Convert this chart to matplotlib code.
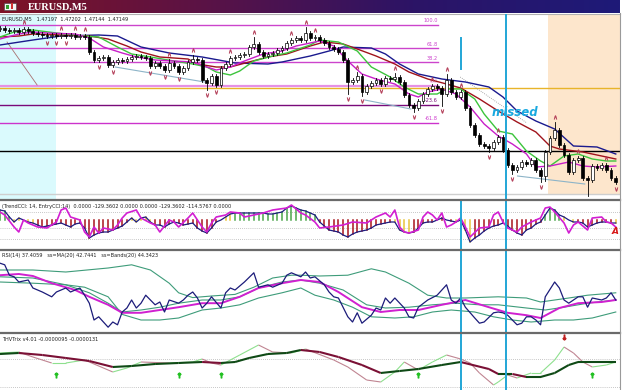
import numpy as np
import matplotlib.pyplot as plt
from matplotlib.collections import LineCollection
from matplotlib.colors import LinearSegmentedColormap
from matplotlib.lines import Line2D
from matplotlib.patches import Rectangle

# ---------------- main window: EURUSD M5, prices in pips above 1.4700
close = [88.5, 87.5, 87, 87.5, 86.5, 88, 87, 86, 85.5, 85,
         84.5, 85, 84.5, 85, 84.5, 85, 84, 84.5, 84, 76.5,
         72.5, 73.5, 74, 70, 71.5, 72.5, 72, 73, 74, 74.5,
         74, 73.5, 69.5, 71, 69.5, 67.5, 71, 69.5, 66.5, 68.5,
         71.5, 73, 72.5, 62.5, 61, 64.5, 60, 68.5, 70.5, 73.5,
         74, 75, 75.5, 79, 80.5, 76.5, 74.5, 75.5, 76, 77.5,
         78.5, 81, 82.5, 83.5, 82.5, 86, 83.5, 84, 82.5, 81,
         79, 78, 76.5, 72.5, 61.5, 62.5, 64.5, 56.5, 59.5, 61,
         62.5, 60.5, 63.5, 63, 64, 61.5, 55, 50, 48.5, 52,
         55.5, 58, 59.5, 58.5, 55.5, 62.5, 56.5, 54, 56.5, 48.5,
         40, 35, 30.5, 29.5, 28.5, 31.5, 34, 27.5, 20, 17.5,
         19, 21.5, 20.5, 22.5, 17.5, 14.5, 26.5, 33.5, 37.5, 30,
         25, 16.5, 22.5, 23.5, 13.5, 12.5, 19.5, 18.5, 20, 17.5,
         13.5, 11.5]
first_open = 88
upper_wick = {36: 2, 41: 2, 54: 3.5, 65: 3, 76: 2, 84: 2, 95: 3, 118: 4}
lower_wick = {44: 3.5, 74: 6, 77: 2, 88: 2, 94: 6, 104: 2, 109: 2, 115: 3, 116: 2.5, 125: 8}
up_fractals = [5, 13, 16, 18, 36, 41, 49, 54, 62, 65, 67, 76, 84, 92, 95, 98, 106, 118, 123, 129]
down_fractals = [10, 12, 14, 21, 24, 32, 35, 38, 44, 46, 74, 77, 81, 88, 94, 104, 109, 115, 125, 131]

navy_ma_bar = [0, 7, 13, 21, 25, 30, 36, 43, 50, 57, 60, 66, 70, 73, 79, 82, 85, 89, 94, 99,
               104, 107, 110, 114, 118, 122, 127, 131]
navy_ma = [80, 82.5, 84.5, 85, 84.5, 79, 76, 74, 71, 70.5, 71.5, 74.5, 77, 79, 78.5, 75.5, 70.5, 65.5,
           63, 61.5, 59, 54, 47, 42, 38, 29.5, 29, 25.5]
red_ma_bar = [0, 4, 7, 13, 19, 23, 27, 30, 34, 40, 42, 46, 49, 53, 57, 61, 66, 69, 73, 76, 80, 84, 87,
              91, 95, 98, 102, 106, 110, 114, 117, 119, 124, 128, 131]
red_ma = [84, 84.5, 85.5, 85, 84.5, 83, 79.5, 76.5, 74, 73, 70.5, 69, 69, 71.5, 74, 75.5, 79.5, 81.5,
          80.5, 78, 74.5, 70.5, 66.5, 63, 60.5, 58.5, 53, 47, 41.5, 36.5, 29.5, 28, 26.5, 24.5, 23]
green_ma_bar = [0, 3, 7, 12, 18, 21, 25, 28, 32, 37, 41, 44, 46, 49, 51, 54, 58, 61, 66, 68, 72, 76,
                79, 83, 86, 89, 93, 95, 98, 101, 103, 106, 109, 112, 115, 117, 120, 123, 126, 129, 131]
green_ma = [84, 86.5, 87.5, 86, 84.5, 84, 79, 75.5, 74, 72, 70.5, 69, 66.5, 65, 67, 72, 74.5, 76, 80,
            82.5, 81.5, 77, 69, 64, 59, 55.5, 55.5, 58, 58, 53, 45.5, 37, 35.5, 27, 22, 19.5, 24.5,
            25.5, 23, 22, 22]
mag_ma_bar = [0, 4, 7, 10, 16, 19, 22, 26, 29, 33, 37, 41, 44, 46, 49, 52, 56, 60, 63, 66, 68, 71, 74,
              77, 80, 84, 87, 89, 91, 94, 97, 100, 103, 106, 109, 112, 114, 117, 121, 124, 127, 131]
mag_ma = [83, 85.5, 86.5, 86, 85.5, 83.5, 79, 76, 74, 72.5, 72, 71.5, 69, 67.5, 69, 72, 75.5, 77, 79.5,
          81, 82, 79.5, 72, 65.5, 63, 60.5, 55.5, 54, 56.5, 58, 55.5, 49, 40.5, 34.5, 30.5, 25.5, 19,
          19.5, 21.5, 19.5, 19, 19.5]

fib_labels = ['100.0', '61.8', '38.2', '0.0', '-23.6', '-61.8']
fib_levels = [90.2, 78.4, 71.4, 59.7, 50.2, 41.2]
fib_colors = ['#cc44cc', '#cc44cc', '#cc44cc', '#e690e6', '#7a0a7a', '#cc33cc']
fib_end_bar = 93.2
yellow_level = 58.5
black_level = 27
grey_level = 5.5

# trend lines drawn on the chart: (bar0, price0, bar1, price1)
brown_line = (1.5, 81.5, 7.9, 60)
blue_lines = [(24.5, 69, 43.5, 61.5), (77.6, 52.5, 87.4, 48), (110.1, 14.5, 124.4, 10.5)]
dotted_line = (97.9, 64, 112.1, 41)

cyan_zone = (0, 12)
peach_zone = (116.5, 131.9)
vline_a = 98.0      # full height in sub windows, short mark in main window
vline_b = 107.6
vline_a_mark = (68, 83.5)

# ---------------- TrendCCI window
trend_cci = [130, 117, 39, -26, 26, 0, -26, -39, -65, -91,
             -78, -65, -52, -39, -65, -91, -52, -39, -104, -234,
             -195, -169, -156, -156, -130, -104, -78, -26, 26, -26,
             26, 39, -26, -65, -65, -91, -52, -26, -39, -65,
             -52, -39, -104, -143, -169, -104, -26, 0, 39, 78,
             91, 91, 91, 91, 91, 91, 91, 78, 78, 91,
             104, 156, 182, 156, 130, 117, 91, 65, -26, -78,
             -130, -143, -156, -195, -221, -182, -156, -143, -130, -104,
             -65, -52, -39, -26, -26, -130, -156, -169, -156, -104,
             -39, -26, -26, 0, 26, 0, -13, -26, 0, -130,
             -286, -234, -195, -143, -104, -78, -65, -39, -78, -130,
             -169, -195, -130, -104, -52, -26, 65, 156, 130, 65,
             39, 0, -26, -26, -39, -91, -65, -39, -26, -26,
             -39, -39]
# g = trend up, r = trend down, y = no trend yet
cci_state = ('ggg' + 'y' * 5 + 'r' * 20 + 'y' * 5 + 'r' * 15 + 'yy' + 'g' * 18 + 'r' * 16
             + 'y' * 4 + 'r' * 9 + 'y' * 4 + 'r' * 15 + 'g' * 4 + 'y' * 3 + 'r' * 8 + 'y')
entry_bar = [0, 1, 3, 4, 5, 6, 8, 10, 12, 13, 14, 15, 17, 18, 19, 20, 21, 22, 24, 25,
             26, 27, 29, 30, 32, 33, 34, 36, 37, 38, 40, 41, 43, 44, 45, 46, 48, 49, 51, 52,
             54, 56, 58, 61, 62, 64, 65, 67, 68, 70, 73, 75, 78, 79, 80, 82, 83, 84, 85, 86,
             87, 89, 90, 91, 92, 93, 94, 95, 96, 97, 98, 99, 100, 102, 104, 105, 106, 107, 108, 110,
             111, 113, 115, 116, 117, 118, 120, 121, 122, 123, 125, 126, 128, 129, 130, 131]
entry_cci = [104, 65, -91, -156, 0, -39, -91, -104, -26, 130, 156, 39, 0, -156, -221, -91, -169, -104, -130, -65,
             26, 91, 130, 26, -39, -65, -156, 0, -26, -91, 26, 91, -91, -156, -39, 39, 65, 104, 91, 39,
             65, 91, 130, 156, 195, 91, 65, -26, -104, -91, -65, -26, -39, 0, 39, 91, 39, 130, -91, -156,
             -169, -130, 39, 104, 65, 0, 91, -91, -65, -26, 26, -91, -221, -104, -91, 65, 104, -26, -104, -156,
             -91, -26, 26, 156, 169, 104, -39, -169, -65, -26, -130, 26, 39, -26, -39, -91]
cci_levels = [100, -100, -250]

# ---------------- RSI window
rsi_bar = [0, 1, 2, 3, 4, 6, 7, 9, 11, 12, 14, 15, 17, 18, 19, 20, 21, 23, 24, 25,
           26, 27, 28, 29, 30, 31, 33, 34, 35, 36, 38, 39, 40, 41, 42, 43, 44, 45, 47, 48,
           49, 50, 52, 54, 55, 57, 58, 60, 61, 62, 64, 65, 66, 67, 69, 70, 71, 72, 74, 75,
           76, 77, 79, 80, 81, 82, 83, 84, 86, 87, 88, 89, 91, 93, 95, 96, 97, 98, 99, 101,
           102, 103, 105, 106, 107, 108, 110, 111, 112, 113, 114, 115, 116, 118, 119, 120, 121, 123, 124, 125,
           126, 128, 129, 130, 131]
rsi = [86, 84, 71, 69, 62.5, 65, 55, 50, 44, 50, 55, 50, 55, 46, 36, 15, 19, 6, 12.5, 9,
       25, 30, 40, 30, 36, 46, 34, 37.5, 25, 40, 36, 40, 46, 50, 42.5, 30, 36, 44, 30, 49,
       55, 52.5, 62.5, 74, 56, 59, 56, 61, 71, 74, 69, 75, 67.5, 69, 59, 50, 44, 42.5, 19, 12.5,
       24, 11, 21, 30, 27.5, 42.5, 36, 42.5, 30, 19, 17.5, 31, 40, 46, 59, 40, 36, 42.5, 31, 17.5,
       11, 12.5, 24, 25, 24, 21, 9, 11, 19, 19, 15, 9, 44, 62.5, 55, 40, 36, 44, 44, 31,
       42.5, 40, 42.5, 49, 40]
rsi_ma_bar = [0, 4, 7, 11, 16, 19, 23, 26, 30, 34, 38, 43, 47, 51, 55, 60, 64, 68, 72, 77,
              81, 85, 89, 94, 99, 104, 108, 112, 115, 119, 123, 128, 131]
rsi_ma = [71, 72.5, 70, 61, 52.5, 44, 34, 24, 24, 27.5, 31, 36, 36, 44, 55, 61, 65, 62.5, 50, 31,
          25, 27.5, 27.5, 34, 40, 31, 24, 21, 17.5, 30, 36, 37.5, 40]
band_up_bar = [0, 7, 14, 23, 28, 32, 36, 38, 41, 45, 50, 54, 58, 62, 64, 68, 74, 79, 82, 87,
               91, 95, 99, 106, 112, 115, 121, 125, 131]
band_up = [77.5, 77.5, 75, 80, 84, 77.5, 61, 49, 43, 45, 47, 56, 67.5, 71, 71, 70, 71, 79, 75, 61,
           46, 42.5, 42.5, 44, 42.5, 37.5, 42.5, 46, 49]
band_mid_bar = [0, 7, 14, 19, 23, 26, 30, 34, 38, 43, 47, 51, 55, 60, 64, 68, 73, 78, 82, 87,
                92, 97, 102, 106, 112, 116, 120, 125, 131]
band_mid = [69, 67.5, 59, 49, 36, 25, 27.5, 31, 36, 40, 40, 44, 55, 62.5, 65, 61, 52.5, 34, 30, 31,
            34, 36, 34, 34, 30, 27.5, 31, 36, 40]
band_lo_bar = [0, 7, 14, 18, 23, 26, 30, 34, 38, 43, 47, 51, 55, 60, 64, 67, 71, 75, 79, 84,
               88, 92, 96, 101, 105, 109, 113, 118, 122, 126, 131]
band_lo = [62.5, 61, 59, 56, 44, 22, 15, 15, 17.5, 27.5, 30, 34, 42.5, 49, 55, 46, 40, 31, 19, 17.5,
           19, 25, 27.5, 25, 19, 15, 12.5, 15, 15, 17.5, 25]

# ---------------- THV Trix window (x 1e-6)
thv_bar = [0, 4, 9, 14, 19, 24, 28, 33, 38, 43, 47, 50, 53, 57, 61, 64, 68, 72, 77, 81,
           85, 89, 94, 98, 104, 106, 109, 112, 115, 118, 121, 123, 126, 129, 131]
thv = [15, 18, 12, 3, -6, -24, -21, -15, -12, -9, -12, -9, 3, 15, 18, 27, 21, 6, -18, -42,
       -36, -30, -18, -9, -30, -45, -45, -54, -54, -42, -18, -9, -9, -9, -9]
thv_sig_bar = [0, 4, 7, 11, 14, 18, 24, 27, 30, 36, 41, 43, 45, 47, 51, 55, 58, 62, 65, 71,
               74, 78, 81, 84, 86, 89, 92, 95, 98, 100, 102, 105, 106, 108, 110, 113, 115, 118, 120, 122,
               124, 126, 129, 131]
thv_sig = [18, 21, 6, -12, -12, -3, -39, -27, -9, -12, -9, 0, -12, -18, 12, 42, 21, 18, 30, -3,
           -24, -63, -69, -39, -9, -33, -9, 12, 0, -12, -42, -78, -69, -48, -57, -42, -42, -3, 36, 18,
           -9, -24, -18, -9]
thv_buy = [12, 38, 47, 89, 126]
thv_sell = [120]

XMAX = 131.9
W = 620 / 625

fig = plt.figure(figsize=(6.25, 3.9), dpi=100, facecolor='white')


def panel(top, bottom):
    ax = fig.add_axes([0, 1 - bottom / 390, W, (bottom - top) / 390])
    ax.set_xlim(0, XMAX)
    ax.set_xticks([])
    ax.set_yticks([])
    for s in ax.spines.values():
        s.set_visible(False)
    return ax


# title bar with gradient
axt = fig.add_axes([0, 1 - 13 / 390, W, 13 / 390])
cmap = LinearSegmentedColormap.from_list('bar', ['#7e1426', '#5a1246', '#2c1466', '#1e1a78'])
axt.imshow(np.linspace(0, 1, 256)[None, :], cmap=cmap, aspect='auto', extent=[0, 1, 0, 1])
axt.set_xlim(0, 1)
axt.set_ylim(0, 1)
axt.axis('off')
axt.add_patch(Rectangle((0.006, 0.2), 0.02, 0.6, facecolor='#f4f4f4', edgecolor='#404040', lw=0.4))
axt.add_patch(Rectangle((0.010, 0.3), 0.004, 0.35, facecolor='#30a030', lw=0))
axt.add_patch(Rectangle((0.017, 0.3), 0.004, 0.45, facecolor='#d03030', lw=0))
axt.text(0.045, 0.47, 'EURUSD,M5', color='white', fontsize=7.5, fontweight='bold',
         family='Liberation Serif', va='center')

# ---------------- main window
ax = panel(14, 199)
ax.set_ylim(3, 95.5)
ax.axvspan(cyan_zone[0], cyan_zone[1], color='#dafafd', lw=0, zorder=0)
ax.axvspan(peach_zone[0], peach_zone[1], ymin=0.02, color='#fde6cc', lw=0, zorder=0)

for lab, lev, col in zip(fib_labels, fib_levels, fib_colors):
    lw = 1.6 if lab == '0.0' else 1.0
    ax.plot([0, fib_end_bar], [lev, lev], color=col, lw=lw, zorder=1)
    ax.text(fib_end_bar, lev + 0.6, lab, color=col, fontsize=3.6, ha='right', va='bottom', zorder=1)
ax.axhline(yellow_level, color='#e8b42a', lw=1.0, zorder=1)
ax.axhline(black_level, color='black', lw=1.0, zorder=1)
ax.axhline(grey_level, color='#cfcfcf', lw=1.0, zorder=1)

ax.plot(brown_line[0::2], brown_line[1::2], color='#a87070', lw=0.6, zorder=2)
for ln in blue_lines:
    ax.plot(ln[0::2], ln[1::2], color='#8db4c8', lw=0.8, zorder=2)
ax.plot(dotted_line[0::2], dotted_line[1::2], color='#909090', lw=0.6, ls=(0, (1, 1.5)), zorder=2)

ax.plot(navy_ma_bar, navy_ma, color='#1a1a8e', lw=1.0, zorder=3)
ax.plot(red_ma_bar, red_ma, color='#a0141c', lw=1.0, zorder=3)
ax.plot(green_ma_bar, green_ma, color='#3cc43c', lw=1.0, zorder=3)
ax.plot(mag_ma_bar, mag_ma, color='#c81ec8', lw=1.0, zorder=3)

opens = [first_open] + close[:-1]
highs, lows = [], []
for i, (o, c) in enumerate(zip(opens, close)):
    hi = max(o, c) + upper_wick.get(i, 1.0)
    lo = min(o, c) - lower_wick.get(i, 1.0)
    highs.append(hi)
    lows.append(lo)
    ax.plot([i, i], [lo, hi], color='black', lw=0.6, zorder=4)
    h = max(abs(c - o), 0.35)
    ax.add_patch(Rectangle((i - 0.3, min(o, c)), 0.6, h, facecolor='black' if c < o else 'white',
                           edgecolor='black', lw=0.5, zorder=5))

ax.plot(up_fractals, [highs[i] + 2.4 for i in up_fractals], ls='none', marker=r'$\wedge$',
        ms=2.6, mew=0.3, color='#b23a55', zorder=6)
ax.plot(down_fractals, [lows[i] - 2.4 for i in down_fractals], ls='none', marker=r'$\vee$',
        ms=2.6, mew=0.3, color='#b23a55', zorder=6)

ax.axvline(vline_b, color='#22a6d6', lw=1.4, zorder=6)
ax.plot([vline_a, vline_a], vline_a_mark, color='#22a6d6', lw=1.4, zorder=6)
ax.text(109.6, 46.5, 'missed', color='#19a9e0', fontsize=8.5, fontweight='bold', style='italic',
        ha='center', va='center', zorder=7)
ax.text(0.004, 0.985, 'EURUSD,M5   1.47197  1.47202  1.47144  1.47149', transform=ax.transAxes,
        fontsize=3.6, va='top', color='#202020', zorder=7)
ax.spines['top'].set_visible(True)
ax.spines['top'].set_color('#b0b0b0')

# ---------------- TrendCCI window
ax2 = panel(201, 249)
ax2.set_ylim(-377, 247)
for lev in cci_levels:
    ax2.axhline(lev, color='#b4b4b4', lw=0.6, ls=(0, (1, 1.5)), zorder=1)
state_col = {'g': '#4aa54a', 'r': '#a8141c', 'y': '#e8c43a'}
for i, v in enumerate(trend_cci):
    ax2.plot([i, i], [0, v], color=state_col[cci_state[i]], lw=1.1, zorder=2)
ax2.plot(range(len(trend_cci)), trend_cci, color='#1c1c80', lw=0.9, zorder=3)
ax2.plot(entry_bar, entry_cci, color='#d21ed2', lw=1.2, zorder=3)
ax2.text(130.2, -150, 'A', color='#d81818', fontsize=6.5, fontweight='bold', style='italic',
         ha='left', va='center', zorder=4, clip_on=True)
ax2.text(0.004, 0.93, '(TrendCCI: 14, EntryCCI:14)  0.0000 -129.3602 0.0000 0.0000 -129.3602 -114.5767 0.0000',
         transform=ax2.transAxes, fontsize=3.6, va='top', color='#202020')

# ---------------- RSI window
ax3 = panel(251, 332)
ax3.set_ylim(0, 101.25)
for bx, by in [(band_up_bar, band_up), (band_mid_bar, band_mid), (band_lo_bar, band_lo)]:
    ax3.plot(bx, by, color='#3e9c7a', lw=0.8, zorder=1)
ax3.plot(rsi_ma_bar, rsi_ma, color='#d020d0', lw=1.4, zorder=2)
ax3.plot(rsi_bar, rsi, color='#1c1c7a', lw=0.9, zorder=3)
ax3.text(0.004, 0.975, 'RSI(14) 37.4059   ss=MA(20) 42.7441   ss=Bands(20) 44.3423',
         transform=ax3.transAxes, fontsize=3.6, va='top', color='#202020')

# ---------------- THV Trix window
ax4 = panel(334, 390)
ax4.set_ylim(-93, 75)
ax4.axhline(0, color='#b4b4b4', lw=0.6, ls=(0, (1, 1.5)), zorder=1)
ax4.axhline(-84, color='#b4b4b4', lw=0.6, ls=(0, (1, 1.5)), zorder=1)


def slope_line(a, xs, ys, up_col, dn_col, lw):
    pts = np.column_stack([xs, ys])
    segs = np.stack([pts[:-1], pts[1:]], axis=1)
    cols = [up_col if y1 >= y0 else dn_col for y0, y1 in zip(ys[:-1], ys[1:])]
    a.add_collection(LineCollection(segs, colors=cols, linewidths=lw, zorder=2))


slope_line(ax4, thv_sig_bar, thv_sig, '#8ee08e', '#c08592', 0.8)
slope_line(ax4, thv_bar, thv, '#0f4a16', '#7a1035', 1.5)
ax4.plot(thv_buy, [-48] * len(thv_buy), ls='none', marker=r'$\uparrow$', ms=3.5, color='#22c022', zorder=3)
ax4.plot(thv_sell, [66] * len(thv_sell), ls='none', marker=r'$\downarrow$', ms=3.5, color='#c02020', zorder=3)
ax4.text(0.004, 0.95, 'THVTrix v4.01 -0.0000095 -0.0000131', transform=ax4.transAxes,
         fontsize=3.6, va='top', color='#202020')

for a in (ax2, ax3, ax4):
    a.axvline(vline_a, color='#22a6d6', lw=1.4, zorder=5)
    a.axvline(vline_b, color='#22a6d6', lw=1.4, zorder=5)

# window separators
for y in (200, 250, 333):
    fig.add_artist(Line2D([0, W], [1 - y / 390, 1 - y / 390], transform=fig.transFigure,
                          color='#6a6a6a', lw=1.6))
fig.add_artist(Line2D([W, W], [0, 1 - 13 / 390], transform=fig.transFigure, color='#9a9a9a', lw=0.8))

fig.savefig('out.png', dpi=100)
